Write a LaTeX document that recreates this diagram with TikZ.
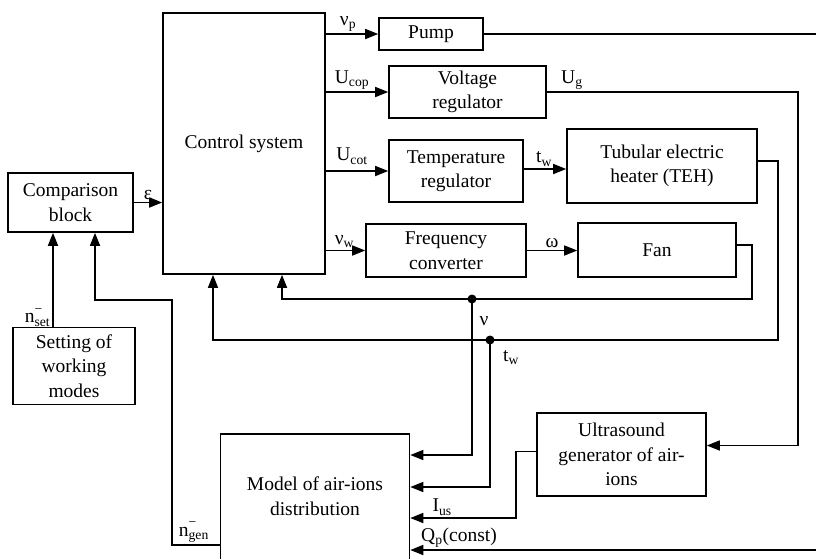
\documentclass[tikz,border=0pt]{standalone}
\usepackage{fontspec}
\setmainfont{Liberation Serif}
\usetikzlibrary{arrows.meta}

\newcommand{\supsub}[2]{\rlap{\raisebox{2pt}{\textsuperscript{#1}}}\textsubscript{#2}}

\begin{document}
\begin{tikzpicture}[x=1pt,y=-1pt,line width=1.6pt,
    font=\fontsize{19.5}{24.5}\selectfont,
    arr/.style={-{Triangle[length=13pt,width=10pt]}},
    block/.style={rectangle,draw,align=center,inner sep=2pt},
    lbl/.style={inner sep=2pt}]
  \useasboundingbox (0,0) rectangle (816,558);

  \node[block,minimum width=162,minimum height=261] (cs) at (244,143.5) {Control system};
  \node[block,minimum width=104,minimum height=32] (pump) at (431,34) {Pump};
  \node[block,minimum width=157,minimum height=52] (vreg) at (467.5,92) {Voltage\\regulator};
  \node[block,minimum width=134,minimum height=62] (treg) at (456,171) {Temperature\\regulator};
  \node[block,minimum width=190,minimum height=74] (teh) at (662,166) {Tubular electric\\heater (TEH)};
  \node[block,minimum width=160,minimum height=53] (fconv) at (446,250.5) {Frequency\\converter};
  \node[block,minimum width=158,minimum height=54] (fan) at (657,250) {Fan};
  \node[block,minimum width=125,minimum height=59] (comp) at (70.5,202.5) {Comparison\\block};
  \node[block,minimum width=122,minimum height=77] (set) at (74,366) {Setting of\\working\\modes};
  \node[block,minimum width=169,minimum height=83] (us) at (621.5,454.5) {Ultrasound\\generator of air-\\ions};
  \node[block,minimum width=189,minimum height=140] (model) at (315,504) {};
  \node[align=center] (modeltxt) at (315,496) {Model of air-ions\\distribution};

  \coordinate (pumpout) at (816,34);
  \coordinate (qin) at (816,550);
  \coordinate (ugturn) at (798,92);
  \coordinate (nudot) at (472,299);
  \coordinate (twdot) at (490,340);
  \coordinate (genturn) at (172,300);

  \draw[arr] (comp.east) -- node[lbl,above] {ε} (comp.east -| cs.west);
  \draw[arr] (pump.west -| cs.east) -- node[lbl,above,xshift=-4pt] {ν\textsubscript{p}} (pump.west);
  \draw[arr] (vreg.west -| cs.east) -- node[lbl,above,xshift=-5pt] {U\textsubscript{cop}} (vreg.west);
  \draw[arr] (treg.west -| cs.east) -- node[lbl,above,xshift=-5pt,yshift=4pt] {U\textsubscript{cot}} (treg.west);
  \draw[arr] (fconv.west -| cs.east) -- node[lbl,above,xshift=-1pt] {ν\textsubscript{w}} (fconv.west);
  \draw[arr] ([yshift=2pt]treg.east) -- node[lbl,above,xshift=-1pt] {t\textsubscript{w}} ([yshift=2pt]treg.east -| teh.west);
  \draw[arr] (fconv.east) -- node[lbl,above] {ω} (fconv.east -| fan.west);

  \draw (pump.east) -- (pumpout);
  \draw[arr] (vreg.east) -- node[lbl,above,pos=0.1] {U\textsubscript{g}} (ugturn) |- ([yshift=9pt]us.east);

  \draw[arr] ([yshift=5pt]fan.east) -- ++(15,0) |- (nudot) -| ([xshift=38pt]cs.south);
  \draw[arr] ([yshift=5pt]teh.east) -- ++(20,0) |- (twdot) -| ([xshift=-31pt]cs.south);
  \fill (nudot) circle (4.5pt);
  \fill (twdot) circle (4.5pt);
  \node[lbl] at (484,321) {ν};
  \node[lbl] at (511,358) {t\textsubscript{w}};

  \draw[arr] (nudot) |- ([yshift=49pt]model.east);
  \draw[arr] (twdot) |- ([yshift=17pt]model.east);
  \draw[arr] ([yshift=3pt]us.west) -- ++(-20,0) |- node[lbl,above,pos=0.85] {I\textsubscript{us}} ([yshift=-14pt]model.east);
  \draw[arr] (qin) -- node[lbl,above,pos=0.88] {Q\textsubscript{p}(const)} ([yshift=-46pt]model.east);

  \draw[arr] ([yshift=-41pt]model.west) -- node[lbl,above,xshift=-2pt] {n\supsub{−}{gen}} ([yshift=-41pt]model.west -| genturn) -- (genturn) -| ([xshift=24.5pt]comp.south);
  \draw[arr] ([xshift=-21pt]set.north) -- node[lbl,left,pos=0.1] {n\supsub{−}{set}} ([xshift=-21pt]set.north |- comp.south);
\end{tikzpicture}
\end{document}
